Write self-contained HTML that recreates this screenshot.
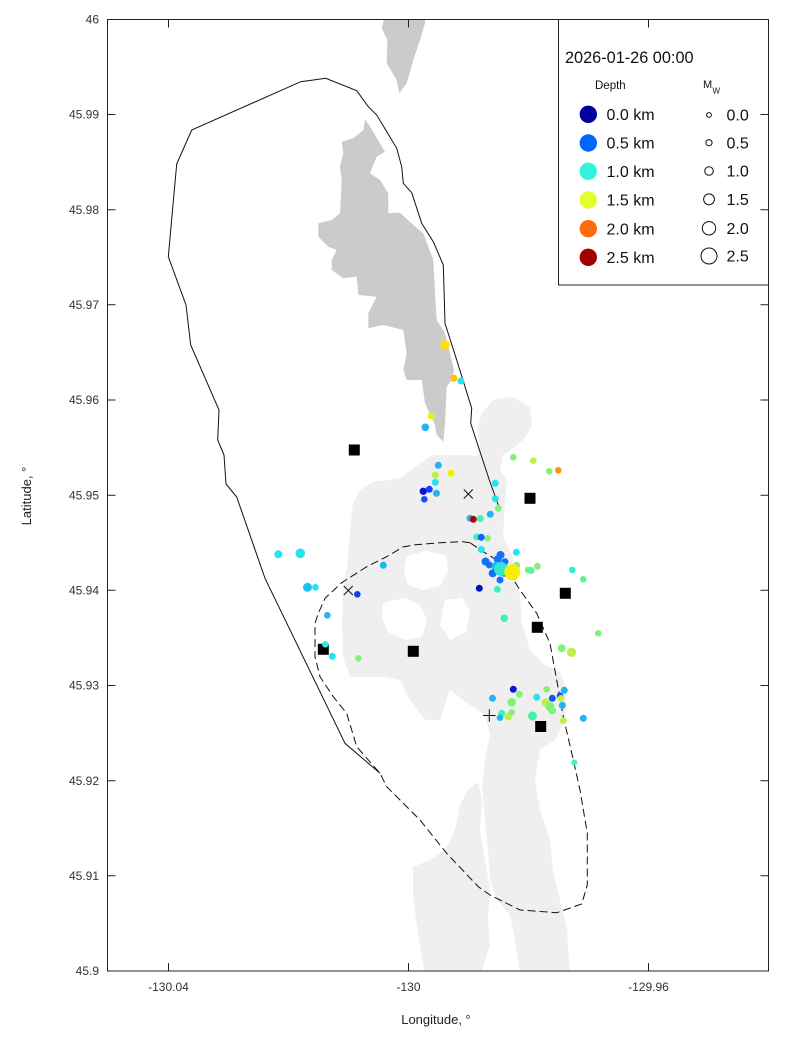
<!DOCTYPE html>
<html><head><meta charset="utf-8"><style>
html,body{margin:0;padding:0;background:#fff;}
svg{display:block;font-family:"Liberation Sans",Arial,sans-serif;}
</style></head><body>
<svg width="800" height="1050" viewBox="0 0 800 1050" xmlns="http://www.w3.org/2000/svg">
<rect x="0" y="0" width="800" height="1050" fill="#fff"/>
<defs><clipPath id="pc"><rect x="107.5" y="19.5" width="661" height="951.5"/></clipPath></defs>
<g clip-path="url(#pc)">
<!-- light gray land -->
<g fill="#efefef">
<polygon points="353,503 360,490 373,482 400,478 422,462 433,455 466,455 477,456 480,447 477,430 482,413 493,400 513,397 530,407 532,427 523,440 513,448 503,455 500,470 507,480 505,500 503,537 513,557 520,597 522,625 530,650 545,665 560,672 567,690 565,720 555,740 540,750 535,780 540,810 550,840 553,870 560,900 567,930 570,975 520,975 515,940 510,915 497,900 490,880 488,850 485,820 482,790 485,760 490,735 485,715 470,705 450,690 440,720 425,720 410,700 400,680 385,677 366,677 350,677 343,657 342,623 343,590 348,560 350,530"/>
<polygon points="413,867 430,860 445,850 455,830 460,805 468,790 478,782 482,800 480,830 485,860 490,890 488,920 490,945 480,975 425,975 420,945 416,920 413,897"/>
</g>
<g fill="#fff">
<polygon points="407,556 425,551 446,555 448,572 440,586 423,590 408,585 404,570"/>
<polygon points="383,603 405,598 420,605 427,620 422,637 405,640 388,632 382,618"/>
<polygon points="445,600 462,598 470,612 466,632 450,640 440,625"/>
</g>
<!-- dark gray islands -->
<g fill="#cbcbcb">
<polygon points="384,19 425,19 425,23.3 420,40 413.3,60 406.7,83.3 399.3,93.3 396.7,80 386.7,63.3 387.3,40 381.7,28.3"/>
<polygon points="365,119.3 370,126.7 385,151.7 376.7,156.7 370,173.3 380,180 388.3,193.3 388.3,213.3 400,212.7 413.3,225 423.3,233.3 433.3,260 435,293.3 436.7,320 445,333.3 454,370 451.7,380 446.7,386.7 445,423.3 443.3,441.7 436.7,435 435,425 425,403.3 421.7,380 406.7,380 403.3,370 406.7,353.3 403.3,330 383.3,325 368.3,328.3 368.3,313.3 376.7,296.7 358.3,295 356.7,276.7 343.3,278.3 331.7,270 331.7,260 336.7,250 328.3,246.7 318.3,236.7 318.3,223.3 331.7,220 340,213.3 341.7,180 340,166.7 343.3,153.3 341.7,141.7 353.3,138.3 363.3,130"/>
</g>
<!-- outer solid polyline -->
<polyline fill="none" stroke="#111" stroke-width="1" points="498.3,505 489.3,480 470.7,423.3 471.7,408.3 456.7,360 445,323.3 443.3,265 433.3,241.7 421.7,223.3 411.7,192.7 403.3,183.3 401.7,166.7 396.7,148.3 376.7,115 368.3,106.7 356.7,90.7 325.7,78.3 300.7,81.7 191.7,130 176.7,164 168.3,256.7 186,305 190.7,345 219,410 217.7,440 224,455 226,484 236.7,497 265,578.3 345,743.3 380,773.3"/>
<!-- dashed loop -->
<path fill="none" stroke="#111" stroke-width="1" stroke-dasharray="8,4" d="M470,542.7 L463.3,541.7 L440,542.7 L413.3,545 L403,547 L386.7,556.7 L366.7,566.7 L341.7,582.7 L325,598.3 L318.3,613.3 L315,623.3 L315,656.7 L320,676.7 L333.3,696.7 L346.7,713.3 L356.7,746.7 L380,773.3 L386.7,786.7 L420,820 L446.7,853.3 L478.3,886.7 L490,895 L520,910 L556.7,912.7 L581.7,904 L587.3,885 L587.3,833.3 L580,790 L573.3,760 L563.3,716.7 L556.7,680 L550,643.3 L536.7,613.3 L520,590 L508.3,571.7 L496.7,560 L483.3,551.7 Z"/>
<!-- squares -->
<g fill="#000">
<rect x="348.8" y="444.5" width="11" height="11"/>
<rect x="524.5" y="492.8" width="11" height="11"/>
<rect x="559.8" y="587.8" width="11" height="11"/>
<rect x="531.8" y="621.8" width="11" height="11"/>
<rect x="317.8" y="643.8" width="11" height="11"/>
<rect x="407.8" y="645.8" width="11" height="11"/>
<rect x="535.2" y="721" width="11" height="11"/>
</g>
<!-- events -->
<g>
<circle cx="445" cy="345" r="4.7" fill="#ffe000"/>
<circle cx="454" cy="378.3" r="3.5" fill="#ffc400"/>
<circle cx="461" cy="381" r="3.5" fill="#22e4f2"/>
<circle cx="431" cy="416" r="3.3" fill="#f2f000"/>
<circle cx="425.3" cy="427.3" r="3.8" fill="#20b4f0"/>
<circle cx="438.3" cy="465.3" r="3.5" fill="#20b4f0"/>
<circle cx="435.3" cy="475" r="3.5" fill="#bcf042"/>
<circle cx="451" cy="473.3" r="3.5" fill="#f2f000"/>
<circle cx="435.3" cy="482.3" r="3.5" fill="#22e4f2"/>
<circle cx="423.3" cy="491.3" r="3.7" fill="#0a14d4"/>
<circle cx="429.3" cy="489.3" r="3.5" fill="#1440ff"/>
<circle cx="436.5" cy="493.3" r="3.5" fill="#20b4f0"/>
<circle cx="424.3" cy="499.3" r="3.3" fill="#1450ff"/>
<circle cx="513.3" cy="457.3" r="3.3" fill="#84f07c"/>
<circle cx="533.3" cy="460.7" r="3.3" fill="#bcf042"/>
<circle cx="549.3" cy="471.3" r="3.3" fill="#84f07c"/>
<circle cx="558.3" cy="470.3" r="3.3" fill="#ff9018"/>
<circle cx="495.3" cy="483.3" r="3.5" fill="#22e4f2"/>
<circle cx="495.3" cy="498.7" r="3.5" fill="#22e4f2"/>
<circle cx="498.3" cy="508.3" r="3.5" fill="#84f07c"/>
<circle cx="490.3" cy="514.3" r="3.5" fill="#20b4f0"/>
<circle cx="470" cy="518.3" r="3.5" fill="#20b4f0"/>
<circle cx="480.3" cy="518.5" r="3.5" fill="#44f0b4"/>
<circle cx="473.3" cy="519.3" r="3.5" fill="#a00a0a"/>
<circle cx="476.7" cy="537" r="3.5" fill="#44f0b4"/>
<circle cx="481.3" cy="537.3" r="3.5" fill="#1460ff"/>
<circle cx="487.7" cy="538.3" r="3.3" fill="#84f07c"/>
<circle cx="481.3" cy="549.5" r="3.5" fill="#22e4f2"/>
<circle cx="516.3" cy="552.3" r="3.5" fill="#22e4f2"/>
<circle cx="485.5" cy="561.5" r="4" fill="#1470ff"/>
<circle cx="489.3" cy="565" r="3.5" fill="#1470ff"/>
<circle cx="500.5" cy="555" r="4" fill="#1470ff"/>
<circle cx="497.7" cy="559.3" r="4" fill="#1470ff"/>
<circle cx="505" cy="561.7" r="3.5" fill="#1470ff"/>
<circle cx="496.7" cy="566.5" r="5" fill="#20b8f0"/>
<circle cx="492.7" cy="573.3" r="4" fill="#1070ff"/>
<circle cx="504" cy="573.3" r="3.5" fill="#1470ff"/>
<circle cx="500" cy="580" r="3.5" fill="#1470ff"/>
<circle cx="501" cy="569" r="7" fill="#30e8d0"/>
<circle cx="516.7" cy="565.3" r="3.5" fill="#84f07c"/>
<circle cx="512.3" cy="572.3" r="8" fill="#f8f000"/>
<circle cx="528.3" cy="570" r="3.5" fill="#84f07c"/>
<circle cx="531" cy="570.5" r="3.5" fill="#60f098"/>
<circle cx="537.3" cy="566.3" r="3.5" fill="#84f07c"/>
<circle cx="479.3" cy="588.3" r="3.5" fill="#0010c0"/>
<circle cx="497.3" cy="589.3" r="3.5" fill="#44f0b4"/>
<circle cx="572.3" cy="570" r="3.3" fill="#30ecd0"/>
<circle cx="583.3" cy="579.3" r="3.3" fill="#60f090"/>
<circle cx="504.3" cy="618.3" r="3.8" fill="#44f0b4"/>
<circle cx="598.3" cy="633.3" r="3.3" fill="#84f07c"/>
<circle cx="561.7" cy="648.3" r="4" fill="#84f07c"/>
<circle cx="571.5" cy="652.3" r="4.7" fill="#bcf042"/>
<circle cx="278.3" cy="554.3" r="4" fill="#22e4f2"/>
<circle cx="300.3" cy="553.3" r="4.8" fill="#22e4f2"/>
<circle cx="383.3" cy="565.3" r="3.5" fill="#20b4f0"/>
<circle cx="307.5" cy="587.3" r="4.5" fill="#20c0f0"/>
<circle cx="315.5" cy="587.3" r="3.3" fill="#22e4f2"/>
<circle cx="357.3" cy="594.3" r="3.3" fill="#1440f0"/>
<circle cx="327.3" cy="615.3" r="3.3" fill="#20b4f0"/>
<circle cx="325.3" cy="644.3" r="3.3" fill="#30ecd0"/>
<circle cx="332.3" cy="656.3" r="3.5" fill="#22e4f2"/>
<circle cx="358.3" cy="658.3" r="3.3" fill="#84f07c"/>
<circle cx="513.3" cy="689.3" r="3.5" fill="#0a14d4"/>
<circle cx="519.3" cy="694.3" r="3.5" fill="#84f07c"/>
<circle cx="492.5" cy="698.3" r="3.5" fill="#20b4f0"/>
<circle cx="511.7" cy="702.3" r="4.3" fill="#84f07c"/>
<circle cx="536.7" cy="697.3" r="3.5" fill="#22e4f2"/>
<circle cx="546.7" cy="689.3" r="3.3" fill="#84f07c"/>
<circle cx="552.3" cy="698.3" r="3.5" fill="#1454ff"/>
<circle cx="560" cy="695.7" r="3.3" fill="#1454ff"/>
<circle cx="564.3" cy="690.3" r="3.5" fill="#20b4f0"/>
<circle cx="561" cy="698.3" r="3.3" fill="#bcf042"/>
<circle cx="546" cy="702.7" r="4.3" fill="#bcf042"/>
<circle cx="550" cy="706.7" r="4.5" fill="#84f07c"/>
<circle cx="552.3" cy="710.7" r="3.8" fill="#84f07c"/>
<circle cx="562.3" cy="705.3" r="3.5" fill="#20b4f0"/>
<circle cx="501.7" cy="713.3" r="3.5" fill="#44f0b4"/>
<circle cx="500" cy="717.7" r="3.3" fill="#20b4f0"/>
<circle cx="508.3" cy="716.7" r="3.8" fill="#bcf042"/>
<circle cx="511.7" cy="712.3" r="3.3" fill="#84f07c"/>
<circle cx="532.5" cy="716" r="4.5" fill="#44f0b4"/>
<circle cx="563.3" cy="720.7" r="3.3" fill="#bcf042"/>
<circle cx="583.3" cy="718.3" r="3.5" fill="#20b4f0"/>
<circle cx="574.3" cy="762.5" r="3" fill="#44f0b4"/>
</g>
<!-- x and + markers -->
<g stroke="#111" stroke-width="1" fill="none">
<path d="M463.8,489.5 L472.8,498.5 M463.8,498.5 L472.8,489.5"/>
<path d="M343.8,586 L352.8,595 M343.8,595 L352.8,586"/>
<path d="M483,715.5 L495.6,715.5 M489.3,709.2 L489.3,721.8"/>
</g>
</g>
<!-- axes frame -->
<rect x="107.5" y="19.5" width="661" height="951.5" fill="none" stroke="#222" stroke-width="1"/>
<g stroke="#222" stroke-width="1">
<!-- y ticks left/right -->
<path d="M107.5,114.5 h8 M107.5,209.7 h8 M107.5,304.8 h8 M107.5,400 h8 M107.5,495.2 h8 M107.5,590.3 h8 M107.5,685.5 h8 M107.5,780.7 h8 M107.5,875.8 h8"/>
<path d="M768.5,114.5 h-8 M768.5,209.7 h-8 M768.5,304.8 h-8 M768.5,400 h-8 M768.5,495.2 h-8 M768.5,590.3 h-8 M768.5,685.5 h-8 M768.5,780.7 h-8 M768.5,875.8 h-8"/>
<!-- x ticks -->
<path d="M168.5,971 v-8 M408.5,971 v-8 M648.5,971 v-8"/>
<path d="M168.5,19.5 v8 M408.5,19.5 v8"/>
</g>
<g font-size="12" fill="#333" text-anchor="end">
<text x="99" y="23.5">46</text>
<text x="99" y="118.7">45.99</text>
<text x="99" y="213.9">45.98</text>
<text x="99" y="309">45.97</text>
<text x="99" y="404.2">45.96</text>
<text x="99" y="499.4">45.95</text>
<text x="99" y="594.5">45.94</text>
<text x="99" y="689.7">45.93</text>
<text x="99" y="784.9">45.92</text>
<text x="99" y="880">45.91</text>
<text x="99" y="975.2">45.9</text>
</g>
<g font-size="12" fill="#333" text-anchor="middle">
<text x="168.5" y="991">-130.04</text>
<text x="408.5" y="991">-130</text>
<text x="648.5" y="991">-129.96</text>
</g>
<text x="436" y="1024" font-size="13" fill="#222" text-anchor="middle">Longitude, °</text>
<text transform="translate(31,496) rotate(-90)" font-size="13" fill="#222" text-anchor="middle">Latitude, °</text>
<!-- legend -->
<rect x="558.5" y="19.5" width="210" height="265.5" fill="#fff" stroke="#222" stroke-width="1"/>
<path d="M648.5,19.5 v8 M768.5,114.5 h-8 M768.5,209.7 h-8" stroke="#222" stroke-width="1"/>
<text x="565" y="63" font-size="16.3" fill="#111">2026-01-26 00:00</text>
<text x="595" y="89" font-size="11.5" fill="#111">Depth</text>
<text x="703" y="88" font-size="11" fill="#111">M</text>
<text x="712.5" y="93.5" font-size="8" fill="#111">W</text>
<g>
<circle cx="588.3" cy="114.3" r="8.7" fill="#00009f"/>
<circle cx="588.3" cy="143" r="8.7" fill="#0064ff"/>
<circle cx="588.3" cy="171.3" r="8.7" fill="#30f5dc"/>
<circle cx="588.3" cy="200" r="8.7" fill="#e2ff2e"/>
<circle cx="588.3" cy="228.7" r="8.7" fill="#ff6a0a"/>
<circle cx="588.3" cy="257.3" r="8.7" fill="#a00000"/>
</g>
<g font-size="16" fill="#111">
<text x="606.5" y="120">0.0 km</text>
<text x="606.5" y="148.7">0.5 km</text>
<text x="606.5" y="177">1.0 km</text>
<text x="606.5" y="205.7">1.5 km</text>
<text x="606.5" y="234.4">2.0 km</text>
<text x="606.5" y="263">2.5 km</text>
</g>
<g fill="#fff" stroke="#111" stroke-width="1">
<circle cx="709" cy="115" r="2.4"/>
<circle cx="709" cy="142.7" r="3.1"/>
<circle cx="709" cy="171" r="4.3"/>
<circle cx="709" cy="199.3" r="5.4"/>
<circle cx="709" cy="228.3" r="6.7"/>
<circle cx="709" cy="256" r="8"/>
</g>
<g font-size="16" fill="#111">
<text x="726.5" y="120.7">0.0</text>
<text x="726.5" y="148.4">0.5</text>
<text x="726.5" y="176.7">1.0</text>
<text x="726.5" y="205">1.5</text>
<text x="726.5" y="234">2.0</text>
<text x="726.5" y="261.7">2.5</text>
</g>
</svg>
</body></html>
